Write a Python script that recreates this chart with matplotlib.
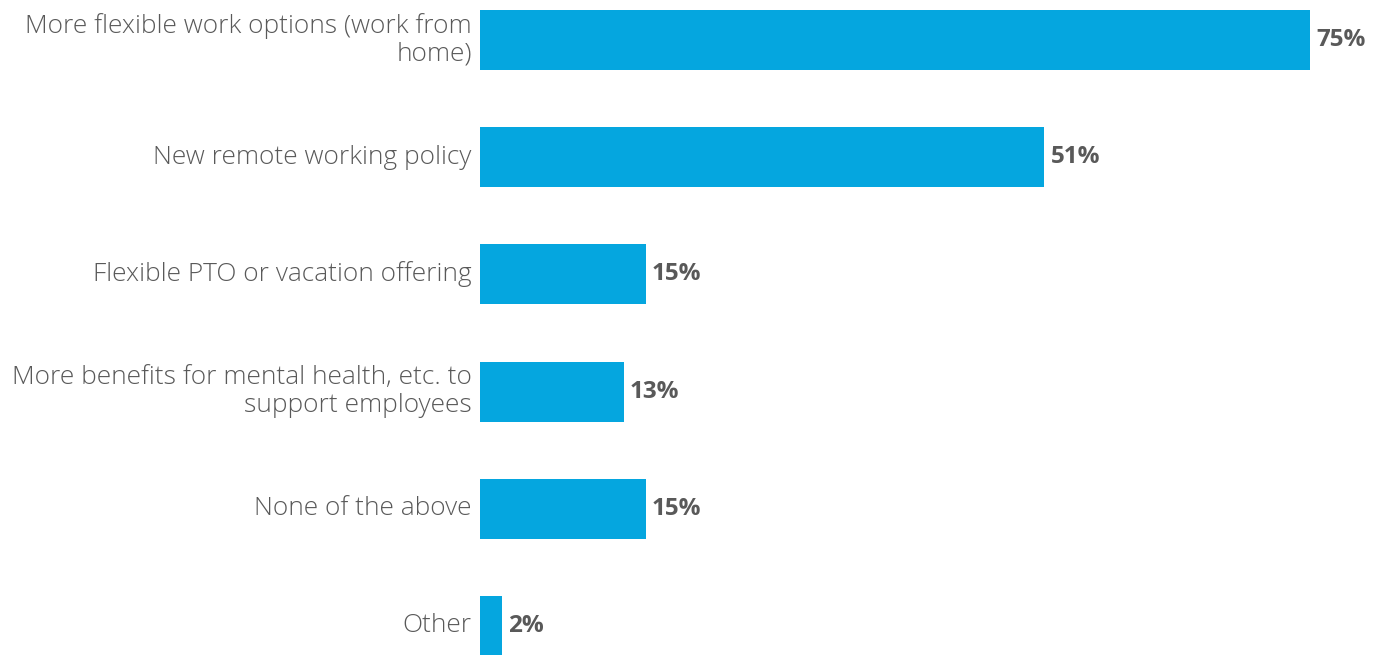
import matplotlib
matplotlib.use("Agg")
import matplotlib.pyplot as plt

categories = [
    "More flexible work options (work from\nhome)",
    "New remote working policy",
    "Flexible PTO or vacation offering",
    "More benefits for mental health, etc. to\nsupport employees",
    "None of the above",
    "Other",
]
values = [75, 51, 15, 13, 15, 2]

BAR_COLOR = "#05A6DF"
TEXT_COLOR = "#595959"

W, H = 1395, 655
fig = plt.figure(figsize=(W / 100, H / 100), dpi=100)
ax = fig.add_axes([480 / W, 0, 1 - 480 / W, 1])

px_per_unit = 830 / 75
ax.set_xlim(0, (W - 480) / px_per_unit)
spacing = 117.2
ax.set_ylim(5 + 29 / spacing, -40 / spacing)

y = list(range(len(categories)))
ax.barh(y, values, height=60 / spacing, color=BAR_COLOR)

for yi, v in zip(y, values):
    ax.text(v + 0.55, yi, f"{v}%", va="center", ha="left",
            fontsize=17.5, fontweight="bold", color=TEXT_COLOR, family="Open Sans")

for yi, c in zip(y, categories):
    ax.text(-0.75, yi, c, va="center", ha="right", fontsize=18.9,
            fontweight="light", color=TEXT_COLOR, family="Open Sans",
            linespacing=1.15)

ax.axis("off")
fig.savefig("out.png", dpi=100)
